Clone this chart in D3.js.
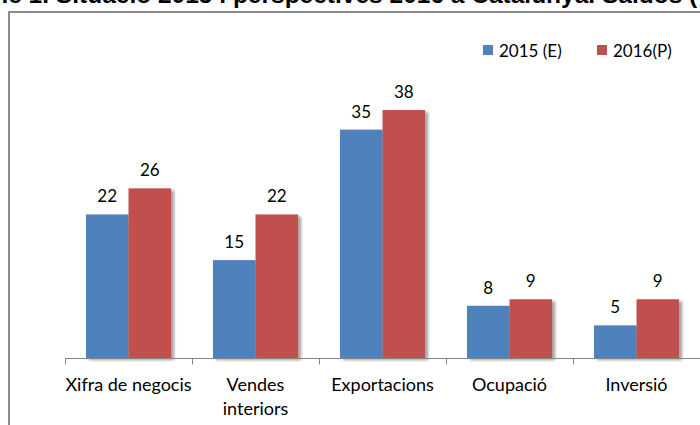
<!DOCTYPE html>
<html>
<head>
<meta charset="utf-8">
<script src="https://cdn.jsdelivr.net/npm/d3@7"></script>
<style>
  html, body { margin: 0; padding: 0; background: #fff; overflow: hidden; }
  svg { display: block; font-family: Lato, "Open Sans", sans-serif; }
</style>
</head>
<body>
<svg width="700" height="425"></svg>
<script>
const categories = ['Xifra de negocis', 'Vendes interiors', 'Exportacions', 'Ocupació', 'Inversió']
const seriesNames = ['2015 (E)', '2016(P)']
const values2015 = [22, 15, 35, 8, 5]
const values2016 = [26, 22, 38, 9, 9]
const colors = ['#4f81bd', '#c0504d']
const title = 'Gràfic 1. Situació 2015 i perspectives 2016 a Catalunya. Saldos (%)'

const svg = d3.select('svg')
const margin = { top: 97, right: 0, bottom: 67, left: 65 }
const baseY = 425 - margin.bottom

// drop shadow like the Excel bars
const defs = svg.append('defs')
defs.append('filter')
    .attr('id', 'shadow')
    .attr('x', '-10%').attr('y', '-10%')
    .attr('width', '130%').attr('height', '120%')
    .append('feDropShadow')
    .attr('dx', 3).attr('dy', 2)
    .attr('stdDeviation', 1.6)
    .attr('flood-color', '#000')
    .attr('flood-opacity', 0.38)

// title, cut off at the top of the picture (as in the source image)
svg.append('text')
    .attr('x', -49)
    .attr('y', 3)
    .attr('font-family', '"Liberation Sans", Arial, sans-serif')
    .attr('font-weight', 'bold')
    .attr('font-size', 24.5)
    .attr('fill', '#000')
    .text(title)

// chart frame
svg.append('rect')
    .attr('x', 9).attr('y', 12)
    .attr('width', 720).attr('height', 440)
    .attr('fill', 'none')
    .attr('stroke', '#8c8c8c')
    .attr('stroke-width', 2)

const x0 = d3.scaleBand()
    .domain(categories)
    .range([margin.left, 700])
    .padding(0)

const bw = x0.bandwidth()
const x1 = d3.scaleBand()
    .domain(seriesNames)
    .range([bw * 0.165, bw * 0.835])

const y = d3.scaleLinear()
    .domain([0, 40])
    .range([baseY, margin.top])

const rows = categories.map((c, i) => ({
    cat: c,
    vals: [values2015[i], values2016[i]].map((v, j) => ({ name: seriesNames[j], value: v, color: colors[j] }))
}))

const groups = svg.selectAll('.grp')
    .data(rows)
    .enter().append('g')
    .attr('class', 'grp')
    .attr('transform', d => `translate(${x0(d.cat)},0)`)

groups.selectAll('rect')
    .data(d => d.vals)
    .enter().append('rect')
    .attr('x', d => x1(d.name))
    .attr('y', d => y(d.value))
    .attr('width', x1.bandwidth())
    .attr('height', d => baseY - y(d.value))
    .attr('fill', d => d.color)
    .attr('filter', 'url(#shadow)')

groups.selectAll('.val')
    .data(d => d.vals)
    .enter().append('text')
    .attr('class', 'val')
    .attr('x', d => x1(d.name) + x1.bandwidth() / 2)
    .attr('y', d => y(d.value) - 12)
    .attr('text-anchor', 'middle')
    .attr('font-size', 17)
    .attr('fill', '#000')
    .text(d => d.value)

// x axis
const axis = svg.append('g')
    .attr('transform', `translate(0,${baseY + 0.5})`)
    .call(d3.axisBottom(x0).tickSize(0).tickPadding(0))
axis.select('.domain')
    .attr('d', `M${margin.left},0H702`)
    .attr('stroke', '#868686')
axis.selectAll('.tick text').remove()

const bounds = categories.map(c => x0(c))
axis.selectAll('.bound')
    .data(bounds)
    .enter().append('line')
    .attr('class', 'bound')
    .attr('x1', d => Math.round(d) + 0.5).attr('x2', d => Math.round(d) + 0.5)
    .attr('y1', 0).attr('y2', 6)
    .attr('stroke', '#868686')

// category labels, wrapped when wider than the band
const labels = svg.append('g')
categories.forEach(c => {
    const t = labels.append('text')
        .attr('x', x0(c) + bw / 2)
        .attr('y', baseY + 33)
        .attr('text-anchor', 'middle')
        .attr('font-size', 18)
        .attr('fill', '#000')
        .text(c)
    if (t.node().getComputedTextLength() > bw) {
        const words = c.split(' ')
        t.text(null)
        words.forEach((w, k) => {
            t.append('tspan')
                .attr('x', x0(c) + bw / 2)
                .attr('dy', k === 0 ? 0 : 24)
                .text(w)
        })
    }
})

// legend
const legend = svg.append('g')
    .attr('font-size', 17)
const legendX = [483, 597]
seriesNames.forEach((s, i) => {
    legend.append('rect')
        .attr('x', legendX[i]).attr('y', 45)
        .attr('width', 10).attr('height', 10)
        .attr('fill', colors[i])
    legend.append('text')
        .attr('x', legendX[i] + 16)
        .attr('y', 57)
        .attr('fill', '#000')
        .text(s)
})
</script>
</body>
</html>
